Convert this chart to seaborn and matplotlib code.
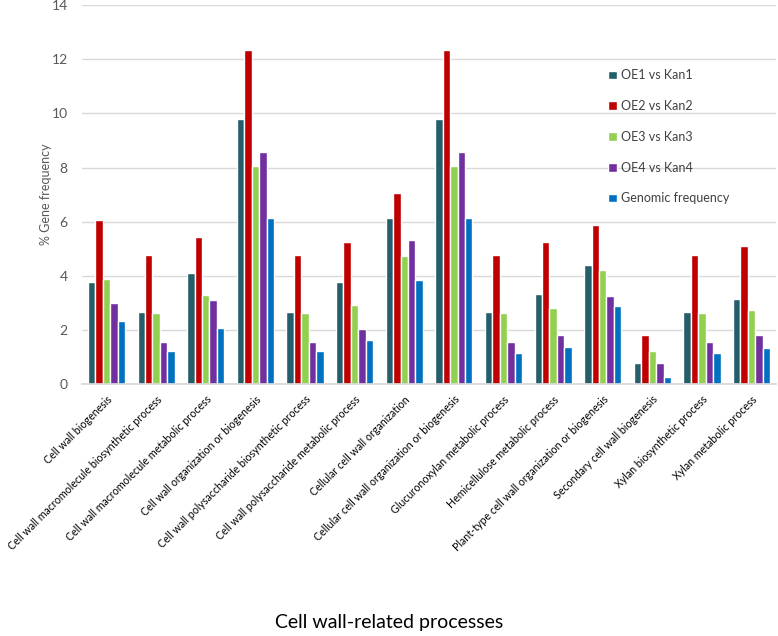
import pandas as pd
import matplotlib
matplotlib.use("Agg")
import matplotlib.pyplot as plt
import seaborn as sns

CATEGORIES = [
    "Cell wall biogenesis",
    "Cell wall macromolecule biosynthetic process",
    "Cell wall macromolecule metabolic process",
    "Cell wall organization or biogenesis",
    "Cell wall polysaccharide biosynthetic process",
    "Cell wall polysaccharide metabolic process",
    "Cellular cell wall organization",
    "Cellular cell wall organization or biogenesis",
    "Glucuronoxylan metabolic process",
    "Hemicellulose metabolic process",
    "Plant-type cell wall organization or biogenesis",
    "Secondary cell wall biogenesis",
    "Xylan biosynthetic process",
    "Xylan metabolic process",
]

SERIES = ["OE1 vs Kan1", "OE2 vs Kan2", "OE3 vs Kan3", "OE4 vs Kan4", "Genomic frequency"]

OE1 = [3.79, 2.67, 4.09, 9.79, 2.67, 3.79, 6.15, 9.79, 2.67, 3.32, 4.41, 0.79, 2.67, 3.14]
OE2 = [6.07, 4.78, 5.43, 12.33, 4.78, 5.25, 7.06, 12.33, 4.78, 5.25, 5.89, 1.80, 4.78, 5.09]
OE3 = [3.88, 2.64, 3.30, 8.04, 2.64, 2.93, 4.74, 8.04, 2.64, 2.81, 4.22, 1.22, 2.64, 2.74]
OE4 = [2.99, 1.54, 3.10, 8.58, 1.54, 2.05, 5.32, 8.58, 1.54, 1.80, 3.25, 0.79, 1.54, 1.80]
GENOMIC = [2.35, 1.22, 2.09, 6.12, 1.22, 1.62, 3.83, 6.12, 1.15, 1.37, 2.89, 0.25, 1.15, 1.32]

COLORS = ["#255e6b", "#c00000", "#92d050", "#7030a0", "#0070c0"]

rows = []
for name, vals in zip(SERIES, [OE1, OE2, OE3, OE4, GENOMIC]):
    for cat, v in zip(CATEGORIES, vals):
        rows.append({"process": cat, "series": name, "freq": v})
df = pd.DataFrame(rows)

sns.set_theme(style="white")
plt.rcParams["font.family"] = ["Lato", "DejaVu Sans"]

fig = plt.figure(figsize=(7.78, 6.36), dpi=100)
ax = fig.add_axes([0.105, 0.396, 0.893, 0.596])

sns.barplot(data=df, x="process", y="freq", hue="series", palette=COLORS,
            width=0.75, gap=0, saturation=1, ax=ax, errorbar=None)

ax.set_ylim(0, 14)
ax.set_yticks(range(0, 15, 2))
ax.set_xlim(-0.5, len(CATEGORIES) - 0.5)
ax.yaxis.grid(True, color="#d9d9d9", linewidth=1)
ax.set_axisbelow(True)
for side in ["top", "right", "left"]:
    ax.spines[side].set_visible(False)
ax.spines["bottom"].set_color("#d9d9d9")

ax.tick_params(axis="y", labelsize=10, colors="#595959", length=0, pad=10)
ax.tick_params(axis="x", labelsize=7.7, colors="#000000", length=0, pad=7)
plt.setp(ax.get_xticklabels(), rotation=45, ha="right", rotation_mode="anchor")

ax.set_ylabel("% Gene frequency", fontsize=9, color="#595959", labelpad=0)
ax.set_xlabel("")
fig.text(0.5, 0.022, "Cell wall-related processes", ha="center", va="center",
         fontsize=14, color="#000000")

leg = ax.legend(loc="upper left", bbox_to_anchor=(0.742, 0.86), frameon=False,
                fontsize=9, labelspacing=1.5, handlelength=0.7, handleheight=0.7,
                handletextpad=0.3)
for t in leg.get_texts():
    t.set_color("#404040")

fig.savefig("out.png", dpi=100)
